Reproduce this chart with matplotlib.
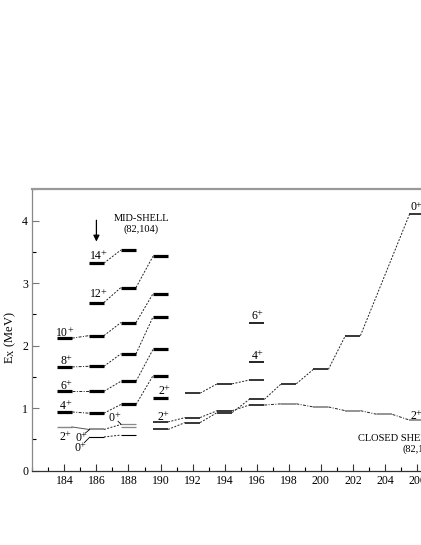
import matplotlib
matplotlib.use("Agg")
import matplotlib.pyplot as plt
from matplotlib.ticker import MultipleLocator

plt.rcParams['font.family'] = ['Liberation Serif', 'DejaVu Serif']
plt.rcParams['mathtext.fontset'] = 'custom'
plt.rcParams['mathtext.rm'] = 'Liberation Serif'
plt.rcParams['mathtext.it'] = 'Liberation Serif:italic'

# thick band levels (MeV) per mass number
band_184 = [0.94, 1.27, 1.66, 2.12]
band_186 = [0.92, 1.27, 1.67, 2.16, 2.69, 3.32]
band_188 = [1.06, 1.43, 1.87, 2.37, 2.93, 3.53]
band_190 = [1.16, 1.52, 1.94, 2.46, 2.83, 3.43]

# low lying thin levels near mid-shell
low_184 = [0.70]
low_186 = [0.66, 0.54]
low_188 = [0.74, 0.70, 0.57]

# 0+ intruder series (dashed)
zero_mass = [190, 192, 194, 196, 198, 200, 202, 206]
zero_e = [0.66, 0.77, 0.93, 1.14, 1.39, 1.62, 2.16, 4.10]
# 2+ series towards closed shell (dash-dot)
two_mass = [190, 192, 194, 196, 198, 200, 202, 204, 206]
two_e = [0.78, 0.85, 0.96, 1.05, 1.07, 1.02, 0.96, 0.90, 0.81]
# 4+ series
four_mass = [192, 194, 196]
four_e = [1.24, 1.39, 1.45]
# isolated levels at 196
extra_196 = [1.74, 2.37]

hw = 0.47

fig = plt.figure(figsize=(4.21, 5.45), dpi=100)
ax = fig.add_axes([0.0767, 0.1363, 0.990, 0.5163])


def level(x, e, lw=1.1, color='k'):
    ax.plot([x - hw, x + hw], [e, e], color=color, lw=lw, solid_capstyle='butt')


def link(x1, e1, x2, e2, ls=(0, (2, 1.5)), color='#222222'):
    ax.plot([x1 + hw, x2 - hw], [e1, e2], color=color, lw=0.7, ls=ls)


def spin(x, y, s):
    t = ax.text(x - 0.13, y, s, ha='center', va='center', fontsize=8.5)
    ax.annotate('+', xy=(1.0, 0.3), xycoords=t, xytext=(-0.6, 0), textcoords='offset points',
                ha='left', va='bottom', fontsize=7.5)


dashdot = (0, (3, 1.5, 1, 1.5))

for e in band_184:
    level(184, e, lw=2.3)
for e in band_186:
    level(186, e, lw=2.3)
for e in band_188:
    level(188, e, lw=2.3)
for e in band_190:
    level(190, e, lw=2.3)

for a, b in zip(band_184, band_186):
    link(184, a, 186, b, ls=dashdot)
for a, b in zip(band_186, band_188):
    link(186, a, 188, b)
for a, b in zip(band_188[:-1], band_190[1:]):
    link(188, a, 190, b)

level(184, low_184[0], lw=1.0, color='#888888')
level(186, low_186[0], lw=1.3, color='#888888')
level(186, low_186[1], lw=0.8)
level(188, low_188[0], lw=0.9, color='#888888')
level(188, low_188[1], lw=0.9, color='#888888')
level(188, low_188[2], lw=0.8)
link(184, low_184[0], 186, low_186[0], ls='-', color='#555555')
link(186, low_186[0], 188, low_188[0])
link(186, low_186[1], 188, low_188[2])

for i, (m, e) in enumerate(zip(zero_mass, zero_e)):
    level(m, e, lw=1.1)
    if i > 0:
        link(zero_mass[i - 1], zero_e[i - 1], m, e)
for i, (m, e) in enumerate(zip(two_mass, two_e)):
    level(m, e, lw=1.1, color='k' if m < 198 else '#777777')
    if i > 0:
        link(two_mass[i - 1], two_e[i - 1], m, e, ls=dashdot if m > 196 else (0, (2, 1.5)))
for i, (m, e) in enumerate(zip(four_mass, four_e)):
    level(m, e, lw=1.1)
    if i > 0:
        link(four_mass[i - 1], four_e[i - 1], m, e)
for e in extra_196:
    level(196, e, lw=1.2)

# spin labels
labels = [
    (184.0, 2.21, '10'), (184.05, 1.76, '8'), (184.05, 1.36, '6'), (184.05, 1.03, '4'),
    (184.0, 0.54, '2'), (186.1, 3.43, '14'), (186.1, 2.82, '12'),
    (185.0, 0.53, '0'), (184.95, 0.36, '0'), (187.1, 0.84, '0'),
    (190.2, 1.27, '2'), (190.1, 0.86, '2'), (196.0, 2.47, '6'), (196.0, 1.84, '4'),
    (205.9, 4.21, '0'), (205.9, 0.88, '2'),
]
for x, y, s in labels:
    spin(x, y, s)

# leaders from the 0+ labels
ax.plot([185.3, 185.58], [0.6, 0.66], color='k', lw=0.6)
ax.plot([185.25, 185.58], [0.45, 0.535], color='k', lw=0.6)
ax.plot([187.35, 187.55], [0.79, 0.74], color='k', lw=0.6)

ax.annotate('', xy=(186, 3.62), xytext=(186, 4.05),
            arrowprops=dict(arrowstyle='-|>', color='k', lw=0.9, mutation_scale=9))
ax.text(188.8, 4.04, 'MID-SHELL', ha='center', va='center', fontsize=7.5)
ax.text(188.8, 3.87, '(82,104)', ha='center', va='center', fontsize=7.5)
ax.text(202.3, 0.51, 'CLOSED SHELL', ha='left', va='center', fontsize=7.5)
ax.text(205.1, 0.34, '(82,126)', ha='left', va='center', fontsize=7.5)

ax.set_xlim(182, 208)
ax.set_ylim(0, 4.5)
ax.xaxis.set_major_locator(MultipleLocator(2))
ax.xaxis.set_minor_locator(MultipleLocator(1))
ax.yaxis.set_major_locator(MultipleLocator(1))
ax.yaxis.set_minor_locator(MultipleLocator(0.5))
ax.set_xticks(range(184, 208, 2))
ax.tick_params(which='major', direction='in', length=5, width=0.8, labelsize=8.5, pad=3,
               top=False, right=False)
ax.tick_params(which='minor', direction='in', length=2.6, width=0.8, top=False, right=False)
ax.tick_params(axis='x', colors='#333333', labelcolor='k')
ax.tick_params(axis='y', colors='#777777', labelcolor='k')
ax.spines['top'].set_color('#999999')
ax.spines['top'].set_linewidth(1.6)
ax.spines['left'].set_color('#888888')
ax.spines['left'].set_linewidth(0.9)
ax.spines['bottom'].set_color('#333333')
ax.spines['bottom'].set_linewidth(0.9)
ax.spines['right'].set_visible(False)

fig.text(0.024, 0.38, r'E$_{\mathrm{X}}$ (MeV)', rotation=90, ha='center', va='center', fontsize=9)

fig.savefig('out.png', dpi=100)
